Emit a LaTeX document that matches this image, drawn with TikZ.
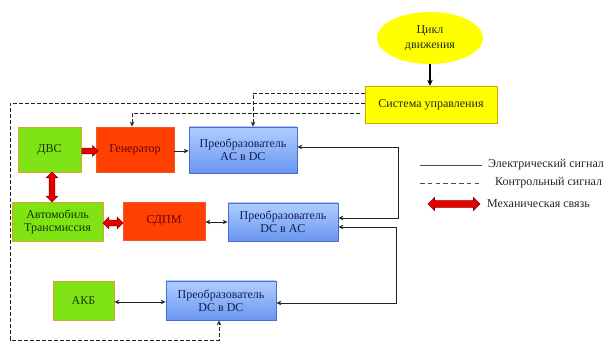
\documentclass[tikz,border=0pt]{standalone}
\usepackage{fontspec}
\setmainfont{Liberation Serif}
\usetikzlibrary{arrows.meta,shapes.geometric,shapes.arrows,calc}
\definecolor{yel}{RGB}{255,255,0}
\definecolor{yelborder}{RGB}{200,170,0}
\definecolor{grn}{RGB}{128,228,20}
\definecolor{grnborder}{RGB}{225,160,50}
\definecolor{grntext}{RGB}{20,55,0}
\definecolor{rd}{RGB}{255,64,0}
\definecolor{rdborder}{RGB}{235,90,40}
\definecolor{rdtext}{RGB}{110,0,0}
\definecolor{bltop}{RGB}{175,205,255}
\definecolor{blbot}{RGB}{105,150,240}
\definecolor{blborder}{RGB}{70,110,210}
\definecolor{bltext}{RGB}{20,30,80}
\definecolor{mech}{RGB}{230,0,0}
\definecolor{mechborder}{RGB}{140,0,0}
\definecolor{wirec}{RGB}{35,35,35}
\tikzset{
  box/.style={rectangle, inner sep=1pt, align=center, font=\fontsize{12}{13}\selectfont},
  grnbox/.style={box, fill=grn, draw=grnborder, line width=0.8pt, text=grntext},
  rdbox/.style={box, fill=rd, draw=rdborder, line width=0.8pt, text=rdtext},
  blbox/.style={box, top color=bltop, bottom color=blbot, draw=blborder, line width=0.8pt, text=bltext},
  wire/.style={draw=wirec, line width=0.9pt},
  tip/.style={-{Stealth[length=5pt,width=4.5pt]}},
  tips/.style={{Stealth[length=5pt,width=4.5pt]}-{Stealth[length=5pt,width=4.5pt]}},
  ctrl/.style={draw=wirec, line width=0.9pt, dash pattern=on 4pt off 2pt},
  darrow/.style={double arrow, fill=mech, draw=mechborder, line width=0.6pt, inner sep=2.5pt,
     minimum width=11pt, double arrow head extend=3pt, double arrow head indent=0pt},
  sarrow/.style={single arrow, fill=mech, draw=mechborder, line width=0.6pt, inner sep=2.5pt,
     minimum width=10pt, single arrow head extend=2.5pt, single arrow head indent=0pt},
  legtext/.style={anchor=west, inner sep=0pt, text=black!85, font=\fontsize{12}{13}\selectfont}
}
\begin{document}
\begin{tikzpicture}[x=1pt,y=-1pt]
\useasboundingbox (0,0) rectangle (611,344);
% nodes
\node[ellipse, fill=yel, minimum width=106pt, minimum height=52pt, inner sep=0pt, align=center,
      font=\fontsize{12}{15}\selectfont, text=black!85] (cycle) at (430,38) {Цикл\\движения};
\node[box, fill=yel, draw=yelborder, minimum width=132pt, minimum height=37pt, text=black!85] (sys) at (431,104.5) {Система управления};
\node[grnbox, minimum width=63pt, minimum height=45pt] (dvs) at (49.5,149.5) {ДВС};
\node[rdbox, minimum width=78pt, minimum height=45pt] (gen) at (135,149.5) {Генератор};
\node[blbox, minimum width=108pt, minimum height=46pt] (acdc) at (243,150) {Преобразователь\\AC в DC};
\node[grnbox, minimum width=91pt, minimum height=39pt] (car) at (57.5,221.5) {Автомобиль\\Трансмиссия};
\node[rdbox, minimum width=82pt, minimum height=38pt] (sdpm) at (164,221) {СДПМ};
\node[blbox, minimum width=110pt, minimum height=38pt] (dcac) at (283,222) {Преобразователь\\DC в AC};
\node[grnbox, minimum width=61pt, minimum height=39pt] (akb) at (83.5,300.5) {АКБ};
\node[blbox, minimum width=110pt, minimum height=39pt] (dcdc) at (221,300.5) {Преобразователь\\DC в DC};
% cycle -> system
\draw[line width=1.3pt, -{Stealth[length=6pt,width=5.5pt]}] (cycle) -- (cycle |- sys.north);
% electrical wires
\coordinate (r1t) at (398,147);
\coordinate (r1b) at (398,218);
\coordinate (r2t) at (396,227);
\coordinate (r2b) at (396,303);
\draw[wire, tip] (gen.east |- 0,151) -- (acdc.west |- 0,151);
\draw[wire, tips] (acdc.east |- r1t) -- (r1t) -- (r1b) -- (dcac.east |- r1b);
\draw[wire, tips] (dcac.east |- r2t) -- (r2t) -- (r2b) -- (dcdc.east |- r2b);
\draw[wire, tips] (sdpm.east |- 0,222) -- (dcac.west |- 0,222);
\draw[wire, tips] (akb.east |- 0,302) -- (dcdc.west |- 0,302);
% control lines
\coordinate (c1) at (253,93);
\coordinate (c2a) at (10,103);
\coordinate (c2b) at (10,340);
\coordinate (c2c) at (219,340);
\coordinate (c3a) at (360,113);
\coordinate (c3b) at (132,113);
\draw[ctrl, tip] (sys.west |- c1) -- (c1) -- (c1 |- acdc.north);
\draw[ctrl, tip] (sys.west |- c2a) -- (c2a) -- (c2b) -- (c2c) -- (c2c |- dcdc.south);
\draw[ctrl, tip] (c3a) -- (c3b) -- (c3b |- gen.north);
% mechanical links
\node[sarrow, minimum height=16pt] (m1) at ($(dvs.east |- 0,151)!0.5!(gen.west |- 0,151)$) {};
\node[darrow, minimum height=30pt, rotate=90] (m2) at ($(dvs.south -| 52,0)!0.5!(car.north -| 52,0)$) {};
\node[darrow, minimum height=20pt] (m3) at ($(car.east |- 0,223)!0.5!(sdpm.west |- 0,223)$) {};
% legend
\coordinate (l1a) at (420,165); \coordinate (l1b) at (482,165);
\coordinate (l2a) at (420,183); \coordinate (l2b) at (482,183);
\draw[draw=black!70, line width=0.6pt] (l1a) -- (l1b);
\draw[draw=black!70, line width=0.9pt, dash pattern=on 4.5pt off 3.3pt] (l2a) -- (l2b);
\node[darrow, minimum height=52pt, minimum width=13pt, inner sep=3pt, double arrow head extend=3pt] (l3) at (454,204) {};
\node[legtext] (t1) at (488,165) {Электрический сигнал};
\node[legtext] (t2) at (495,183) {Контрольный сигнал};
\node[legtext] (t3) at (487,204) {Механическая связь};
\end{tikzpicture}
\end{document}
